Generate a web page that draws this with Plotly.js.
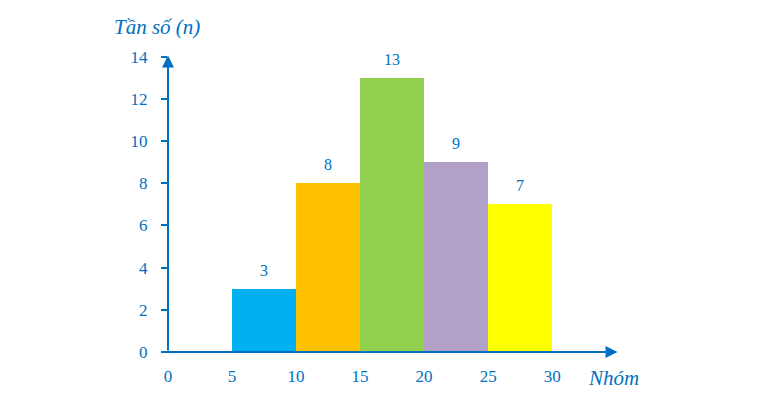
<!DOCTYPE html>
<html>
<head>
<meta charset="utf-8">
<script src="https://cdn.plot.ly/plotly-3.0.1.min.js"></script>
<style>html,body{margin:0;padding:0;background:#fff;}#chart{width:774px;height:405px;}</style>
</head>
<body>
<div id="chart"></div>
<script>
const binStart = [5, 10, 15, 20, 25];
const binEnd = [10, 15, 20, 25, 30];
const freq = [3, 8, 13, 9, 7];
const barColors = ['#00B0F0', '#FFC000', '#92D050', '#B1A0C7', '#FFFF00'];
const xTicks = [0, 5, 10, 15, 20, 25, 30];
const yTicks = [0, 2, 4, 6, 8, 10, 12, 14];
const yTitle = 'Tần số (n)';
const xTitle = 'Nhóm';

const blue = '#0070C0';
const font = 'Liberation Serif';

const centers = binStart.map((s, i) => (s + binEnd[i]) / 2);
const widths = binStart.map((s, i) => binEnd[i] - s);

const trace = {
  type: 'bar',
  x: centers,
  y: freq,
  width: widths,
  marker: {color: barColors, line: {width: 0}},
  hoverinfo: 'none'
};

const L = 168, R = 774 - 168 - 36 * 12.8, T = 352 - 14.5 * 21.07, B = 405 - 352;
const pw = 774 - L - R, ph = 405 - T - B;
const px2x = p => (p - L) / pw;
const py2y = p => (405 - B - p) / ph;

const annotations = centers.map((c, i) => ({
  x: c, y: freq[i], xref: 'x', yref: 'y',
  text: String(freq[i]), showarrow: false,
  xanchor: 'center', yanchor: 'bottom', yshift: 8,
  font: {family: font, size: 16, color: blue}
}));

annotations.push({
  x: 35.1, y: 0, ax: -0.4, ay: 0, xref: 'x', yref: 'y', axref: 'x', ayref: 'y',
  showarrow: true, arrowhead: 2, arrowsize: 1.2, arrowwidth: 2, arrowcolor: blue, text: ''
});
annotations.push({
  x: 0, y: 14.05, ax: 0, ay: 0, xref: 'x', yref: 'y', axref: 'x', ayref: 'y',
  showarrow: true, arrowhead: 2, arrowsize: 1.2, arrowwidth: 2, arrowcolor: blue, text: ''
});
annotations.push({
  x: px2x(157), y: py2y(28), xref: 'paper', yref: 'paper', xanchor: 'center', yanchor: 'middle',
  showarrow: false, text: '<i>' + yTitle + '</i>',
  font: {family: font, size: 21, color: blue}
});
annotations.push({
  x: px2x(613), y: py2y(378), xref: 'paper', yref: 'paper', xanchor: 'center', yanchor: 'middle',
  showarrow: false, text: '<i>' + xTitle + '</i>',
  font: {family: font, size: 21, color: blue}
});

const layout = {
  width: 774, height: 405,
  margin: {l: L, r: R, t: T, b: B},
  paper_bgcolor: '#fff', plot_bgcolor: '#fff',
  showlegend: false,
  bargap: 0,
  xaxis: {
    range: [0, 36], showgrid: false, zeroline: false, showline: false,
    tickmode: 'array', tickvals: xTicks, ticktext: xTicks.map(String),
    ticks: '', ticklabelstandoff: 12,
    tickfont: {family: font, size: 17, color: blue}
  },
  yaxis: {
    range: [0, 14.5], showgrid: false, zeroline: false, showline: false,
    tickmode: 'array', tickvals: yTicks, ticktext: yTicks.map(String),
    ticks: 'outside', ticklen: 6, tickwidth: 2, tickcolor: blue,
    ticklabelstandoff: 10,
    tickfont: {family: font, size: 17, color: blue}
  },
  annotations: annotations
};

Plotly.newPlot('chart', [trace], layout, {displayModeBar: false, staticPlot: true});
</script>
</body>
</html>
